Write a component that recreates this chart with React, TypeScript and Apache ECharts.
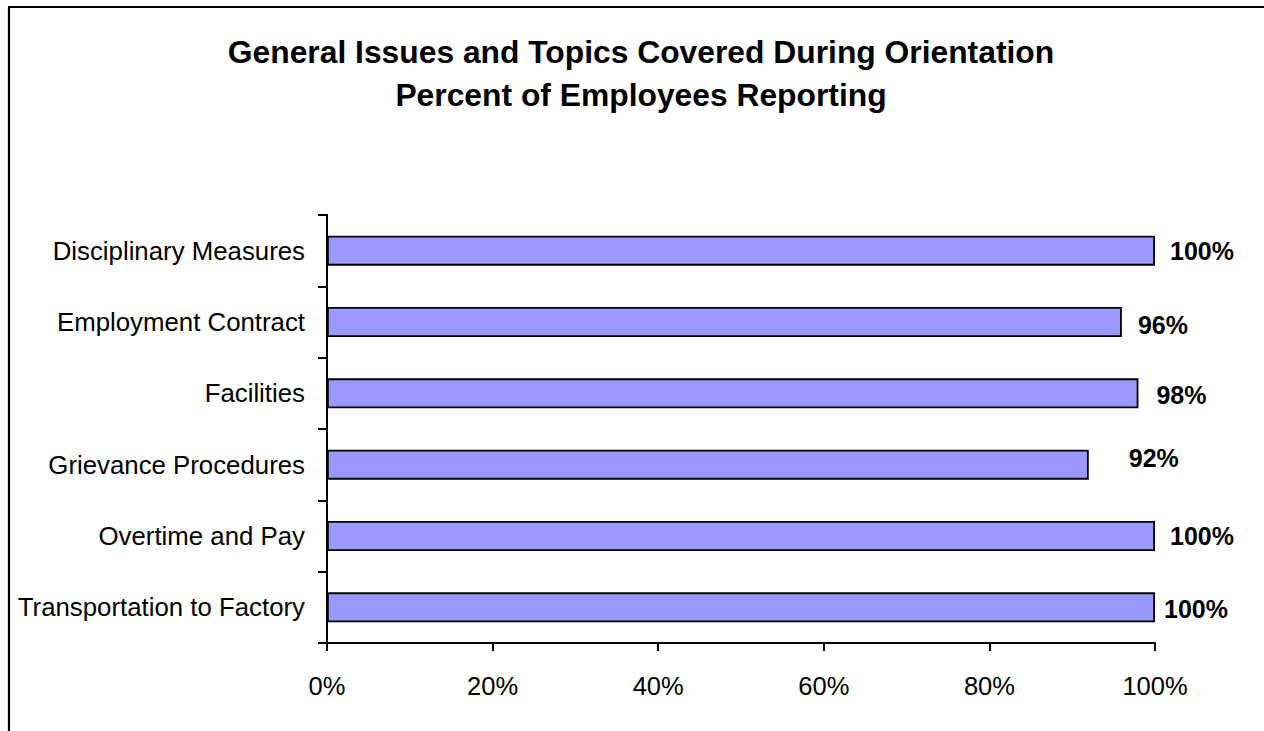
import React, { useEffect, useRef } from "react";
import * as echarts from "echarts";

const titleLines = [
  "General Issues and Topics Covered During Orientation",
  "Percent of Employees Reporting",
];
const categories = [
  "Disciplinary Measures",
  "Employment Contract",
  "Facilities",
  "Grievance Procedures",
  "Overtime and Pay",
  "Transportation to Factory",
];
const percentReporting = [100, 96, 98, 92, 100, 100];
const xTicks = [0, 20, 40, 60, 80, 100];
// label nudges (dx, dy) to mimic the manual placement in the original
const labelNudges = [
  [0, 0],
  [1, 3],
  [3, 2],
  [25, -7],
  [0, 0],
  [-6, 2],
];

const FONT = "'Liberation Sans', Arial, Helvetica, sans-serif";

export default function App() {
  const ref = useRef<HTMLDivElement>(null);
  useEffect(() => {
    if (!ref.current) return;
    const chart = echarts.init(ref.current, null, { renderer: "svg" });
    chart.setOption({
      animation: false,
      backgroundColor: "#ffffff",
      textStyle: { fontFamily: FONT },
      title: {
        text: titleLines.join("\n"),
        left: 636,
        textAlign: "center",
        top: 25,
        textStyle: {
          fontFamily: FONT,
          fontWeight: "bold",
          fontSize: 31.8,
          lineHeight: 43,
          color: "#000",
        },
      },
      graphic: [
        {
          type: "line",
          shape: { x1: 9, y1: 7, x2: 9, y2: 800 },
          style: { stroke: "#000", lineWidth: 2.2 },
        },
        {
          type: "line",
          shape: { x1: 8, y1: 7, x2: 1300, y2: 7 },
          style: { stroke: "#000", lineWidth: 2.2 },
        },
      ],
      grid: { left: 327, right: 109, top: 215, bottom: 88, containLabel: false },
      xAxis: {
        type: "value",
        min: xTicks[0],
        max: xTicks[xTicks.length - 1],
        interval: 20,
        axisLine: { show: true, lineStyle: { color: "#000", width: 2 } },
        axisTick: { show: true, length: 8, lineStyle: { color: "#000", width: 2 } },
        splitLine: { show: false },
        axisLabel: {
          formatter: "{value}%",
          fontFamily: FONT,
          fontSize: 25.5,
          color: "#000",
          margin: 30,
        },
      },
      yAxis: {
        type: "category",
        data: categories,
        inverse: true,
        axisLine: { show: true, lineStyle: { color: "#000", width: 2 } },
        axisTick: { show: true, length: 9, lineStyle: { color: "#000", width: 2 } },
        axisLabel: {
          fontFamily: FONT,
          fontSize: 25.8,
          color: "#000",
          margin: 22,
        },
      },
      series: [
        {
          type: "bar",
          data: percentReporting.map((v, i) => ({
            value: v,
            label: { offset: labelNudges[i] },
          })),
          barWidth: "42%",
          itemStyle: { color: "#9999FF", borderColor: "#000", borderWidth: 1.8 },
          label: {
            show: true,
            position: "right",
            distance: 15,
            formatter: "{c}%",
            fontFamily: FONT,
            fontWeight: "bold",
            fontSize: 25,
            color: "#000",
          },
        },
      ],
    });
    return () => chart.dispose();
  }, []);
  return (
    <div
      ref={ref}
      style={{ position: "fixed", left: 0, top: 0, width: 1264, height: 731, overflow: "hidden" }}
    />
  );
}
